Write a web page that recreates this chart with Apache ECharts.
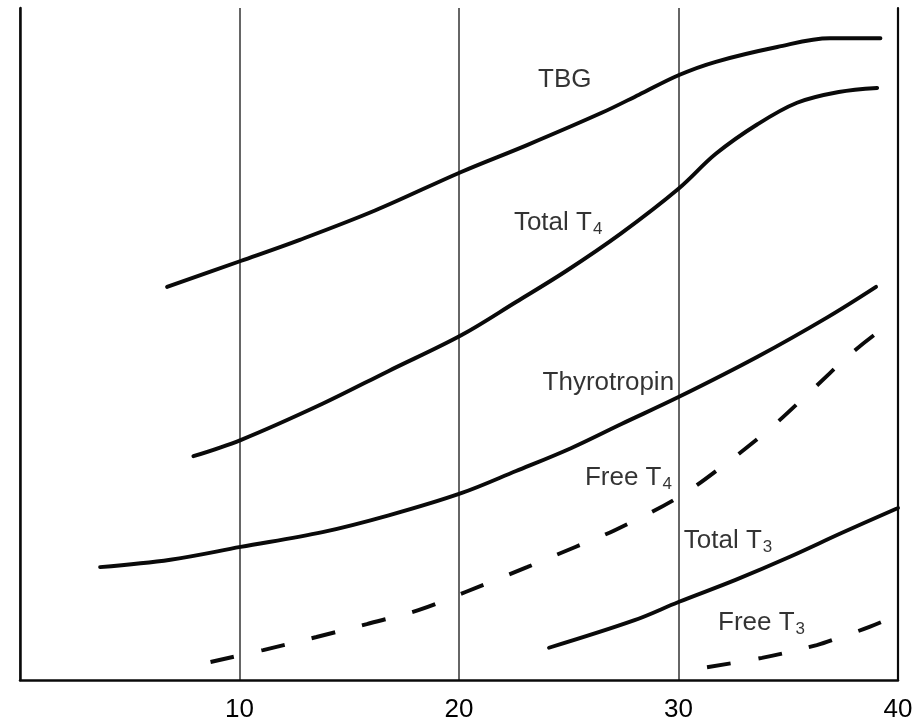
<!DOCTYPE html>
<html><head><meta charset="utf-8">
<script src="https://cdn.jsdelivr.net/npm/echarts@6/dist/echarts.min.js"></script>
<style>html,body{margin:0;padding:0;background:#fff}#c{width:922px;height:727px}</style>
</head><body><div id="c"></div>
<script>
// x: weeks, y: relative level (0-100)
const xTicks = [10, 20, 30, 40];

const tbgX = [6.7, 10.05, 12.75, 16.2, 20.1, 23.1, 26.5, 28.2, 30, 31.7, 34.5, 36.9, 39.2];
const tbgY = [58.5, 62.35, 65.5, 69.9, 75.6, 79.6, 84.4, 87.1, 90.0, 92.0, 94.2, 95.5, 95.5];

const totalT4X = [7.9, 10.05, 13.78, 16.8, 20.1, 22.6, 24.9, 27.4, 30, 31.7, 33.6, 35.4, 37.3, 39.05];
const totalT4Y = [33.3, 35.7, 41.1, 46.0, 51.3, 56.25, 60.9, 66.5, 73.1, 78.3, 82.7, 85.9, 87.5, 88.1];

const tshX = [3.65, 6.85, 10.05, 13.78, 16.8, 20.1, 22.6, 25.1, 27.4, 30, 33.6, 36.8, 39.0];
const tshY = [16.8, 17.9, 19.8, 22.0, 24.5, 27.8, 31.1, 34.5, 38.1, 42.1, 48.1, 54.0, 58.5];

const freeT4X = [8.68, 11.08, 13.51, 15.8, 18.15, 20.3, 23.1, 25.3, 27.1, 30, 32.2, 34.2, 36.0, 37.8, 38.9];
const freeT4Y = [2.68, 4.46, 6.4, 8.33, 10.4, 13.1, 16.8, 19.8, 22.3, 27.2, 32.3, 37.5, 42.9, 48.4, 51.3];

const totalT3X = [24.1, 28.0, 30, 32.6, 35.05, 37.45, 40];
const totalT3Y = [4.8, 8.9, 11.6, 14.9, 18.3, 21.9, 25.6];

const freeT3X = [31.3, 33.8, 36.3, 37.4, 38.7, 39.8];
const freeT3Y = [1.9, 3.3, 5.2, 6.4, 7.9, 9.4];

const labelText = ['TBG', 'Total T', 'Thyrotropin', 'Free T', 'Total T', 'Free T'];
const labelSub  = ['', '4', '', '4', '3', '3'];
const labelX = [23.6, 22.5, 29.8, 29.7, 30.24, 31.8];
const labelY = [89.15, 67.85, 44.05, 29.95, 20.5, 8.3];
const labelAlign = ['left', 'left', 'right', 'right', 'left', 'left'];

const zip = (xs, ys) => xs.map((x, i) => [x, ys[i]]);

const chart = echarts.init(document.getElementById('c'), null, {renderer: 'canvas'});
const solid = {color: '#0a0a0a', width: 3.9, cap: 'round'};
const dashed = {color: '#0a0a0a', width: 3.9, type: [24, 28], cap: 'butt'};
const mk = (name, xs, ys, ls) => ({
  name, type: 'line', data: zip(xs, ys), smooth: 0.35, showSymbol: false,
  symbol: 'none', lineStyle: ls, silent: true, z: 3
});
const FONT = 'Liberation Sans, Arial, sans-serif';

chart.setOption({
  animation: false,
  backgroundColor: '#fff',
  grid: {left: 20, right: 24, top: 8, bottom: 47},
  xAxis: {
    type: 'value', min: 0, max: 40, interval: 10,
    axisLine: {show: true, lineStyle: {color: '#0a0a0a', width: 2.5}},
    axisTick: {show: false},
    axisLabel: {
      formatter: v => xTicks.includes(v) ? String(v) : '',
      fontSize: 26, color: '#000', fontFamily: FONT, margin: 17
    },
    splitLine: {show: true, lineStyle: {color: '#333', width: 1.5}}
  },
  yAxis: [
    {type: 'value', min: 0, max: 100, position: 'left',
     axisLine: {show: true, lineStyle: {color: '#0a0a0a', width: 2.5}},
     axisTick: {show: false}, axisLabel: {show: false}, splitLine: {show: false}},
    {type: 'value', min: 0, max: 100, position: 'right',
     axisLine: {show: true, lineStyle: {color: '#0a0a0a', width: 2.2}},
     axisTick: {show: false}, axisLabel: {show: false}, splitLine: {show: false}}
  ],
  series: [
    mk('TBG', tbgX, tbgY, solid),
    mk('Total T4', totalT4X, totalT4Y, solid),
    mk('Thyrotropin', tshX, tshY, solid),
    mk('Free T4', freeT4X, freeT4Y, dashed),
    mk('Total T3', totalT3X, totalT3Y, solid),
    mk('Free T3', freeT3X, freeT3Y, dashed),
    {
      type: 'scatter', symbolSize: 0, silent: true, z: 5,
      data: labelText.map((t, i) => ({
        value: [labelX[i], labelY[i]],
        label: {
          show: true, position: [0, 0], align: labelAlign[i], verticalAlign: 'middle',
          formatter: '{m|' + t + '}' + (labelSub[i] ? '{s|' + labelSub[i] + '}' : ''),
          rich: {
            m: {fontSize: 26, fontFamily: FONT, color: '#000', lineHeight: 28, verticalAlign: 'top'},
            s: {fontSize: 17, fontFamily: FONT, color: '#000', lineHeight: 17, verticalAlign: 'bottom', padding: [21, 0, 0, 1]}
          }
        }
      }))
    }
  ]
});
</script>
</body></html>
